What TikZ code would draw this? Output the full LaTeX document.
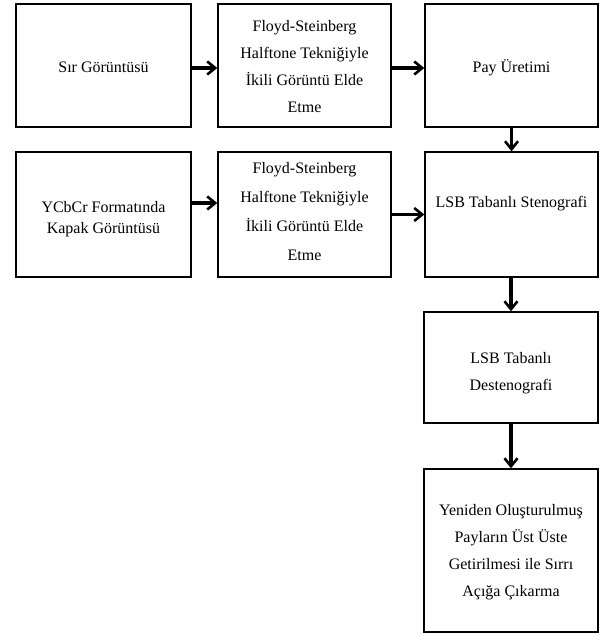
\documentclass[tikz,border=0pt]{standalone}
\usepackage{fontspec}
\setmainfont{Liberation Serif}
\usetikzlibrary{arrows.meta}
\begin{document}
\begin{tikzpicture}[x=1pt,y=1pt,
  box/.style={draw=black, line width=1.4pt, fill=white, inner sep=0pt},
  txt/.style={align=center, inner sep=0pt, font=\fontsize{16}{27}\selectfont},
  arr/.style={line width=3.2pt,
    -{Straight Barb[length=8pt,width=13pt,line width=2.6pt]}}]
\useasboundingbox (0,0) rectangle (600,637);
\fill[white] (0,0) rectangle (600,637);
% first row of blocks
\node[box, minimum width=175, minimum height=123] (sir)   at (103.5,571.5) {};
\node[box, minimum width=173, minimum height=123] (fs1)   at (304.5,571.5) {};
\node[box, minimum width=173, minimum height=123] (pay)   at (511.5,571.5) {};
% second row of blocks
\node[box, minimum width=175, minimum height=125] (kapak) at (103.5,422.5) {};
\node[box, minimum width=173, minimum height=125] (fs2)   at (304.5,422.5) {};
\node[box, minimum width=173, minimum height=125] (steno) at (511.5,422.5) {};
% right column
\node[box, minimum width=174, minimum height=111] (desteno) at (511,269.5) {};
\node[box, minimum width=174, minimum height=163] (acik)    at (511,86.5) {};
% block texts
\node[txt] (sir-t) at ([yshift=-2pt]sir.center) {Sır Görüntüsü};
\node[txt] (fs1-t) at ([yshift=-1pt]fs1.center)
  {Floyd-Steinberg\\Halftone Tekniğiyle\\İkili Görüntü Elde\\Etme};
\node[txt] (pay-t) at ([yshift=-2pt]pay.center) {Pay Üretimi};
\node[txt, font=\fontsize{16}{21}\selectfont] (kapak-t) at ([yshift=-5pt]kapak.center)
  {YCbCr Formatında\\Kapak Görüntüsü};
\node[txt, font=\fontsize{16}{29}\selectfont] (fs2-t) at ([yshift=3pt]fs2.center)
  {Floyd-Steinberg\\Halftone Tekniğiyle\\İkili Görüntü Elde\\Etme};
\node[txt] (steno-t) at ([yshift=11pt]steno.center) {LSB Tabanlı Stenografi};
\node[txt] (desteno-t) at ([yshift=-6pt]desteno.center) {LSB Tabanlı\\Destenografi};
\node[txt] (acik-t) at ([yshift=-2pt]acik.center)
  {Yeniden Oluşturulmuş\\Payların Üst Üste\\Getirilmesi ile Sırrı\\Açığa Çıkarma};
% connectors
\draw[arr] ([yshift=-2.5pt]sir.east) -- ([yshift=-2.5pt]fs1.west);
\draw[arr] ([yshift=-2.5pt]fs1.east) -- ([yshift=-2.5pt]pay.west);
\draw[arr] ([yshift=11.5pt]kapak.east) -- ([yshift=11.5pt]fs2.west);
\draw[arr] (fs2.east) -- (steno.west);
\draw[arr] (pay.south) -- (steno.north);
\draw[arr] (steno.south -| desteno.north) -- (desteno.north);
\draw[arr] (desteno.south) -- (acik.north);
\end{tikzpicture}
\end{document}
